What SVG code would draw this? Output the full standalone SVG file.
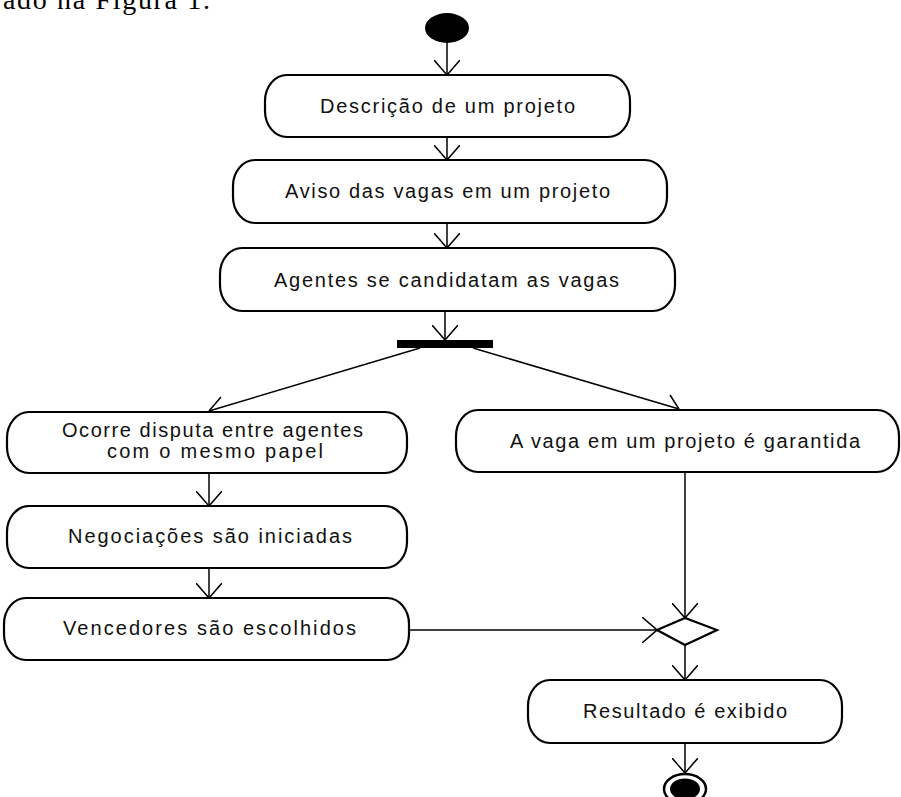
<svg xmlns="http://www.w3.org/2000/svg" width="901" height="797" viewBox="0 0 901 797">
<defs>
<style>
.node{fill:#fff;stroke:#000;stroke-width:2.2}
.lbl{font-family:"Liberation Sans",Arial,sans-serif;font-size:20px;fill:#111}
.edge{fill:none;stroke:#000;stroke-width:1.5}
.head{fill:none;stroke:#000;stroke-width:1.5}
</style>
<marker id="open" viewBox="0 0 16 26" refX="15" refY="13" markerWidth="16" markerHeight="26" markerUnits="userSpaceOnUse" orient="auto">
<path d="M0,0 L15,13 L0,26" fill="none" stroke="#000" stroke-width="1.5"/>
</marker>
</defs>
<rect width="901" height="797" fill="#fff"/>
<text x="3" y="9" font-family="'Liberation Serif','Times New Roman',serif" font-size="28" fill="#000" textLength="207" lengthAdjust="spacing">ado na Figura 1.</text>

<g id="edges">
<line class="edge" x1="447" y1="43" x2="447" y2="75" marker-end="url(#open)"/>
<line class="edge" x1="447" y1="137" x2="447" y2="160" marker-end="url(#open)"/>
<line class="edge" x1="447" y1="223" x2="447" y2="248" marker-end="url(#open)"/>
<line class="edge" x1="445" y1="311" x2="445" y2="340" marker-end="url(#open)"/>
<path class="edge" d="M420,348 L209,411"/>
<path class="head" d="M221,397 L209,411"/>
<path class="edge" d="M473,348 L679,409"/>
<path class="head" d="M670,395 L679,409"/>
<line class="edge" x1="209" y1="473" x2="209" y2="506" marker-end="url(#open)"/>
<line class="edge" x1="209" y1="568" x2="209" y2="598" marker-end="url(#open)"/>
<line class="edge" x1="409" y1="630" x2="657" y2="630" marker-end="url(#open)"/>
<line class="edge" x1="685" y1="472" x2="685" y2="618" marker-end="url(#open)"/>
<line class="edge" x1="685" y1="645" x2="685" y2="680" marker-end="url(#open)"/>
<line class="edge" x1="685" y1="743" x2="685" y2="773" marker-end="url(#open)"/>
</g>

<g id="start">
<ellipse cx="447" cy="28" rx="22" ry="15" fill="#000"/>
</g>

<g id="n1">
<rect class="node" x="265" y="75" width="365" height="62" rx="22" ry="26"/>
<text class="lbl" x="320" y="113" textLength="255" lengthAdjust="spacing">Descrição de um projeto</text>
</g>

<g id="n2">
<rect class="node" x="233" y="160" width="434" height="63" rx="22" ry="26"/>
<text class="lbl" x="285" y="198" textLength="325" lengthAdjust="spacing">Aviso das vagas em um projeto</text>
</g>

<g id="n3">
<rect class="node" x="220" y="248" width="455" height="63" rx="22" ry="26"/>
<text class="lbl" x="274" y="287" textLength="345" lengthAdjust="spacing">Agentes se candidatam as vagas</text>
</g>

<g id="fork">
<rect x="397" y="340" width="96" height="8" fill="#000"/>
</g>

<g id="n4">
<rect class="node" x="7" y="412" width="400" height="61" rx="22" ry="26"/>
<text class="lbl" x="62" y="437" textLength="301" lengthAdjust="spacing">Ocorre disputa entre agentes</text>
<text class="lbl" x="107" y="458" textLength="216" lengthAdjust="spacing">com o mesmo papel</text>
</g>

<g id="n5">
<rect class="node" x="456" y="410" width="443" height="62" rx="22" ry="26"/>
<text class="lbl" x="510" y="448" textLength="350" lengthAdjust="spacing">A vaga em um projeto é garantida</text>
</g>

<g id="n6">
<rect class="node" x="7" y="506" width="400" height="62" rx="22" ry="26"/>
<text class="lbl" x="68" y="543" textLength="284" lengthAdjust="spacing">Negociações são iniciadas</text>
</g>

<g id="n7">
<rect class="node" x="4" y="598" width="405" height="62" rx="22" ry="26"/>
<text class="lbl" x="63" y="635" textLength="293" lengthAdjust="spacing">Vencedores são escolhidos</text>
</g>

<g id="merge">
<polygon points="657,630 685,618 717,630 685,645" fill="#fff" stroke="#000" stroke-width="2.2"/>
</g>

<g id="n8">
<rect class="node" x="528" y="680" width="314" height="63" rx="22" ry="26"/>
<text class="lbl" x="583" y="718" textLength="204" lengthAdjust="spacing">Resultado é exibido</text>
</g>

<g id="end">
<ellipse cx="685" cy="789" rx="21" ry="15" fill="#fff" stroke="#000" stroke-width="2.5"/>
<ellipse cx="685" cy="789" rx="15" ry="10.5" fill="#000"/>
</g>
</svg>
